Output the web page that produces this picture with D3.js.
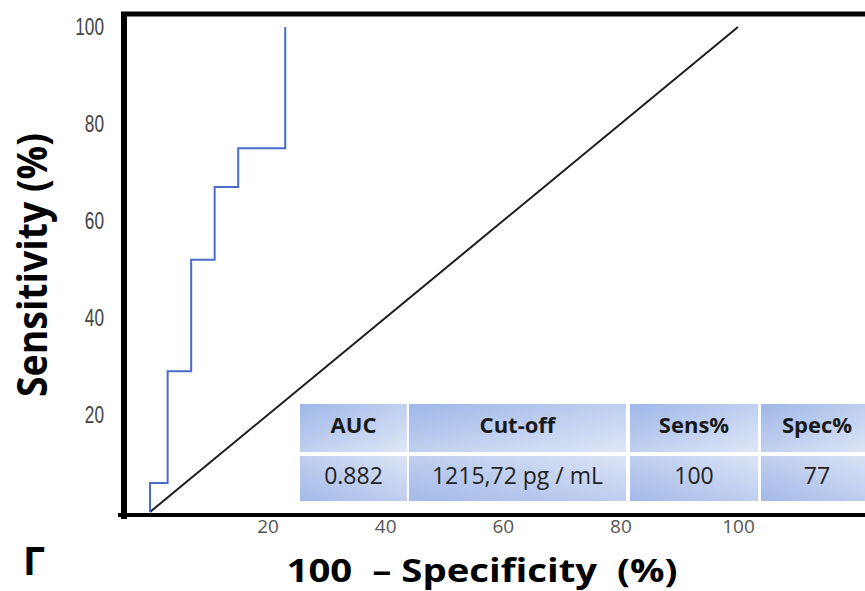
<!DOCTYPE html>
<html>
<head>
<meta charset="utf-8">
<script src="https://cdn.jsdelivr.net/npm/d3@7"></script>
<style>
  body { margin: 0; background: #fff; }
  svg { display: block; }
</style>
</head>
<body>
<div id="chart"></div>
<script>
const width = 865;
const height = 591;

// ROC curve (100 - specificity, sensitivity)
const fprValues = [0, 0, 3, 7, 11, 15, 23];
const sensValues = [0, 6, 29, 52, 67, 75, 100];
// reference diagonal
const diagFpr = [0, 100];
const diagSens = [0, 100];

const xTickValues = [20, 40, 60, 80, 100];
const yTickValues = [20, 40, 60, 80, 100];

const tableHeaders = ["AUC", "Cut-off", "Sens%", "Spec%"];
const tableValues = ["0.882", "1215,72 pg / mL", "100", "77"];

const colX = [300, 409, 630, 761];
const colW = [107, 217, 128, 112];

const svg = d3.select('#chart')
    .append('svg')
    .attr('width', width)
    .attr('height', height);

const x = d3.scaleLinear()
    .domain([0, 100])
    .range([150, 738]);

const y = d3.scaleLinear()
    .domain([0, 100])
    .range([512, 27]);

// gradients for table cells
const defs = svg.append('defs');
const grad = defs.append('linearGradient')
    .attr('id', 'cellGrad')
    .attr('x1', 0).attr('y1', 0)
    .attr('x2', 1).attr('y2', 1);
grad.append('stop').attr('offset', '0%').attr('stop-color', '#9fb7e7');
grad.append('stop').attr('offset', '100%').attr('stop-color', '#dfe7f7');

const grad2 = defs.append('linearGradient')
    .attr('id', 'cellGrad2')
    .attr('x1', 0).attr('y1', 1)
    .attr('x2', 1).attr('y2', 0);
grad2.append('stop').attr('offset', '0%').attr('stop-color', '#a3b9e8');
grad2.append('stop').attr('offset', '100%').attr('stop-color', '#dbe4f6');

// table
const table = svg.append('g');
table.selectAll('rect.head')
    .data(tableHeaders)
    .enter()
    .append('rect')
    .attr('class', 'head')
    .attr('x', (d, i) => colX[i])
    .attr('y', 404)
    .attr('width', (d, i) => colW[i])
    .attr('height', 48)
    .attr('fill', 'url(#cellGrad)');

table.selectAll('rect.val')
    .data(tableValues)
    .enter()
    .append('rect')
    .attr('class', 'val')
    .attr('x', (d, i) => colX[i])
    .attr('y', 456)
    .attr('width', (d, i) => colW[i])
    .attr('height', 45)
    .attr('fill', 'url(#cellGrad2)');

table.selectAll('text.head')
    .data(tableHeaders)
    .enter()
    .append('text')
    .attr('class', 'head')
    .attr('x', (d, i) => colX[i] + colW[i] / 2)
    .attr('y', 433)
    .attr('text-anchor', 'middle')
    .style('font-family', '"Open Sans", sans-serif')
    .style('font-weight', 'bold')
    .style('font-size', '22px')
    .attr('fill', '#1a1a1a')
    .text(d => d);

table.selectAll('text.val')
    .data(tableValues)
    .enter()
    .append('text')
    .attr('class', 'val')
    .attr('x', (d, i) => colX[i] + colW[i] / 2)
    .attr('y', 484)
    .attr('text-anchor', 'middle')
    .style('font-family', '"Open Sans", sans-serif')
    .style('font-size', '23px')
    .attr('fill', '#222')
    .text(d => d);

// frame
const frame = svg.append('g').attr('stroke', '#000');
frame.append('line').attr('x1', 121).attr('x2', width).attr('y1', 14).attr('y2', 14).attr('stroke-width', 5);
frame.append('line').attr('x1', 118).attr('x2', width).attr('y1', 515).attr('y2', 515).attr('stroke-width', 4);
frame.append('line').attr('x1', 124).attr('x2', 124).attr('y1', 12).attr('y2', 519).attr('stroke-width', 6);

// diagonal
const diagData = diagFpr.map((d, i) => [d, diagSens[i]]);
svg.append('path')
    .datum(diagData)
    .attr('fill', 'none')
    .attr('stroke', '#1c1c1c')
    .attr('stroke-width', 2)
    .attr('d', d3.line().x(d => x(d[0])).y(d => y(d[1])));

// ROC curve
const rocData = fprValues.map((d, i) => [d, sensValues[i]]);
svg.append('path')
    .datum(rocData)
    .attr('fill', 'none')
    .attr('stroke', '#4a6ccb')
    .attr('stroke-width', 2)
    .attr('d', d3.line().x(d => x(d[0])).y(d => y(d[1])).curve(d3.curveStepAfter));

// axes
const gXAxis = svg.append('g')
    .attr('transform', 'translate(0, 517)')
    .call(d3.axisBottom(x).tickValues(xTickValues).tickSize(0).tickPadding(2));
gXAxis.select('.domain').remove();
gXAxis.selectAll('text')
    .style('font-family', '"Open Sans", sans-serif')
    .style('font-size', '19px')
    .attr('fill', '#555');

const gYAxis = svg.append('g')
    .attr('transform', 'translate(104, 0)')
    .call(d3.axisLeft(y).tickValues(yTickValues).tickSize(0).tickPadding(0));
gYAxis.select('.domain').remove();
gYAxis.selectAll('text')
    .attr('transform', 'scale(0.75, 1)')
    .style('font-family', '"Liberation Sans", Arial, sans-serif')
    .style('font-size', '23px')
    .attr('fill', '#444');

// titles
svg.append('text')
    .attr('transform', 'translate(47, 265) rotate(-90)')
    .attr('text-anchor', 'middle')
    .attr('textLength', 264)
    .attr('lengthAdjust', 'spacingAndGlyphs')
    .style('font-family', '"Open Sans", sans-serif')
    .style('font-weight', 'bold')
    .style('font-size', '42px')
    .attr('fill', '#000')
    .text('Sensitivity (%)');

svg.append('text')
    .attr('x', 482)
    .attr('y', 582)
    .attr('text-anchor', 'middle')
    .attr('textLength', 391)
    .attr('lengthAdjust', 'spacingAndGlyphs')
    .style('white-space', 'pre')
    .style('font-family', '"Open Sans", sans-serif')
    .style('font-weight', 'bold')
    .style('font-size', '33px')
    .attr('fill', '#000')
    .text('100  \u2013 Specificity  (%)');

svg.append('text')
    .attr('x', 23)
    .attr('y', 575)
    .style('font-family', '"Open Sans", sans-serif')
    .style('font-weight', 'bold')
    .style('font-size', '39px')
    .attr('fill', '#000')
    .text('\u0413');
</script>
</body>
</html>
